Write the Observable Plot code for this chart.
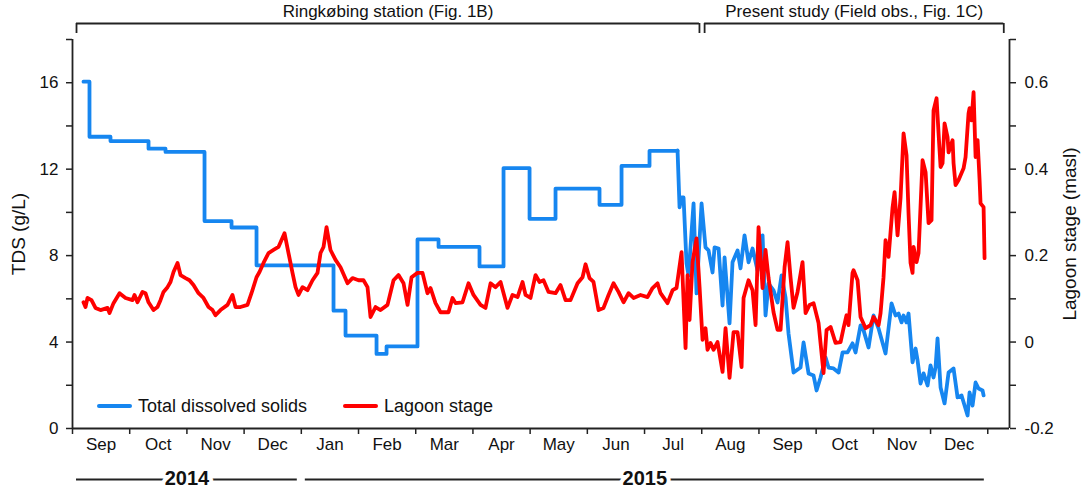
<!DOCTYPE html>
<html><head><meta charset="utf-8">
<script src="https://cdn.jsdelivr.net/npm/d3@7"></script>
<script src="https://cdn.jsdelivr.net/npm/@observablehq/plot@0.6"></script>
<style>
body{margin:0;background:#fff;font-family:"Liberation Sans",Arial,sans-serif}
#wrap{position:relative;width:1084px;height:490px;overflow:hidden}
.leg{position:absolute;top:395px;height:22px;display:flex;align-items:center;font-size:18px;color:#111;white-space:nowrap}
.leg span.sw{display:inline-block;width:35px;height:4px;margin-right:6px;border-radius:2px}
</style></head><body><div id="wrap"></div>
<script>
// time axis: months since 1 Sep 2014
const months = ["Sep","Oct","Nov","Dec","Jan","Feb","Mar","Apr","May","Jun","Jul","Aug","Sep","Oct","Nov","Dec"];
// TDS (g/L), Ringkøbing station stepwise values (start time of each step)
const tdsStepT = [0.192,0.297,0.664,1.329,1.626,2.308,2.780,3.217,4.563,4.773,5.315,5.490,6.031,6.399,7.115,7.535,7.990,8.444,9.213,9.598,10.087,10.577];
const tdsStepV = [16.05,13.5,13.3,12.95,12.8,9.6,9.3,7.55,5.45,4.3,3.45,3.8,8.75,8.4,7.5,12.05,9.7,11.1,10.35,12.15,12.85,12.85];
// TDS (g/L), field observations
const tdsT = [10.577,10.612,10.647,10.682,10.734,10.769,10.857,10.909,10.997,11.066,11.119,11.189,11.224,11.294,11.364,11.399,11.486,11.538,11.626,11.678,11.748,11.818,11.888,11.976,12.063,12.115,12.168,12.255,12.325,12.395,12.465,12.517,12.605,12.727,12.780,12.867,12.955,13.007,13.077,13.164,13.217,13.304,13.392,13.462,13.549,13.636,13.689,13.776,13.829,13.916,14.003,14.091,14.213,14.318,14.388,14.441,14.493,14.528,14.580,14.615,14.685,14.738,14.773,14.825,14.878,14.948,15.000,15.052,15.087,15.122,15.175,15.245,15.315,15.402,15.472,15.542,15.647,15.682,15.734,15.787,15.839,15.909,15.927];
const tdsV = [12.87,10.23,10.69,10.69,7.64,7.08,10.42,6.25,10.42,8.38,8.24,7.22,8.38,8.33,5.69,7.92,4.86,7.69,8.24,7.41,8.94,7.69,8.33,7.31,8.94,5.23,6.71,6.39,5.83,7.08,6.06,4.40,2.59,2.82,3.98,2.55,2.45,1.76,2.36,3.29,2.82,2.78,2.59,3.52,3.52,3.94,3.52,4.77,4.54,3.75,5.23,4.63,3.47,5.79,5.23,5.32,4.91,5.23,4.91,5.32,3.06,3.70,3.15,2.08,2.55,1.99,2.92,2.36,2.82,4.17,1.90,1.16,2.59,2.78,1.44,1.53,0.60,1.67,1.06,2.13,1.85,1.76,1.53];
// Lagoon stage (masl)
const lagT = [0.192,0.227,0.262,0.332,0.402,0.490,0.612,0.647,0.717,0.822,0.927,1.049,1.084,1.136,1.224,1.276,1.329,1.416,1.486,1.538,1.591,1.661,1.713,1.766,1.836,1.888,1.976,2.045,2.115,2.203,2.290,2.378,2.448,2.500,2.587,2.710,2.797,2.850,2.937,3.059,3.129,3.217,3.269,3.339,3.427,3.514,3.601,3.706,3.776,3.846,3.899,3.951,4.021,4.108,4.196,4.283,4.336,4.388,4.441,4.510,4.598,4.685,4.808,4.895,5.000,5.087,5.157,5.210,5.297,5.385,5.507,5.612,5.699,5.787,5.857,5.927,6.031,6.119,6.206,6.259,6.346,6.434,6.573,6.643,6.696,6.818,6.923,7.010,7.133,7.220,7.308,7.395,7.483,7.605,7.692,7.780,7.867,7.920,8.007,8.094,8.164,8.234,8.322,8.444,8.531,8.619,8.706,8.829,8.916,8.969,9.038,9.108,9.196,9.283,9.371,9.458,9.545,9.633,9.720,9.808,9.930,10.052,10.140,10.227,10.280,10.402,10.490,10.559,10.647,10.717,10.752,10.787,10.839,10.909,10.962,11.014,11.066,11.101,11.154,11.206,11.276,11.364,11.416,11.486,11.556,11.626,11.696,11.731,11.818,11.888,11.941,11.993,12.028,12.063,12.115,12.168,12.255,12.325,12.378,12.448,12.500,12.552,12.605,12.675,12.762,12.815,12.885,12.955,13.042,13.129,13.182,13.252,13.339,13.427,13.479,13.531,13.566,13.636,13.654,13.724,13.776,13.864,13.951,14.003,14.091,14.126,14.178,14.213,14.266,14.336,14.371,14.423,14.476,14.528,14.580,14.615,14.650,14.685,14.703,14.755,14.790,14.860,14.913,14.965,15.017,15.052,15.105,15.140,15.175,15.210,15.245,15.297,15.315,15.385,15.402,15.437,15.490,15.577,15.612,15.664,15.682,15.717,15.752,15.787,15.822,15.857,15.874,15.927,15.944];
const lagV = [0.092,0.081,0.102,0.097,0.079,0.074,0.079,0.067,0.090,0.113,0.102,0.097,0.109,0.092,0.116,0.113,0.092,0.074,0.081,0.097,0.116,0.127,0.139,0.162,0.183,0.155,0.148,0.143,0.132,0.113,0.102,0.081,0.074,0.062,0.074,0.086,0.109,0.081,0.081,0.086,0.113,0.150,0.162,0.183,0.206,0.213,0.220,0.252,0.206,0.160,0.127,0.109,0.127,0.120,0.143,0.160,0.206,0.220,0.266,0.213,0.190,0.173,0.136,0.148,0.143,0.143,0.127,0.058,0.081,0.074,0.086,0.143,0.155,0.136,0.086,0.150,0.160,0.160,0.113,0.125,0.090,0.069,0.069,0.102,0.090,0.092,0.136,0.109,0.086,0.079,0.136,0.127,0.139,0.079,0.109,0.104,0.139,0.109,0.102,0.155,0.139,0.143,0.116,0.113,0.132,0.097,0.097,0.136,0.150,0.180,0.148,0.139,0.074,0.079,0.109,0.136,0.116,0.092,0.113,0.102,0.109,0.104,0.125,0.136,0.113,0.090,0.120,0.125,0.208,-0.014,0.155,0.051,0.185,0.240,0.127,0.005,0.032,-0.018,-0.002,-0.018,0.000,-0.069,0.032,-0.083,0.023,0.023,-0.058,0.102,0.143,0.120,0.039,0.266,0.197,0.125,0.213,0.148,0.069,0.028,0.028,0.173,0.231,0.150,0.079,0.116,0.185,0.067,0.086,0.090,0.044,-0.072,0.028,0.035,-0.002,0.000,0.032,0.062,0.039,0.160,0.166,0.143,0.058,0.032,0.039,0.058,0.039,0.067,0.150,0.236,0.197,0.312,0.347,0.247,0.335,0.483,0.432,0.298,0.183,0.160,0.220,0.185,0.206,0.421,0.393,0.275,0.282,0.536,0.564,0.483,0.405,0.414,0.506,0.474,0.439,0.467,0.414,0.363,0.375,0.402,0.428,0.529,0.541,0.513,0.578,0.428,0.467,0.375,0.321,0.312,0.194];
// axes ticks
const tdsTicks = [0,4,8,12,16];
const tdsMinor = [2,6,10,14,18];
const lagTicks = [-0.2,0,0.2,0.4,0.6];
const lagMinor = [-0.1,0.1,0.3,0.5,0.7];
// annotation spans (months since 1 Sep 2014)
const periodLabels = ["Ringkøbing station (Fig. 1B)","Present study (Field obs., Fig. 1C)"];
const periodStart = [0.07,11.05];
const periodEnd = [10.96,16.28];
const yearLabels = ["2014","2015"];
const yearStart = [0.07,4.07];
const yearEnd = [3.93,15.94];
const seriesNames = ["Total dissolved solids","Lagoon stage"];
const seriesColors = ["#1686f0","#ff0000"];

// ---- build tables ----
const toY = L => (L + 0.2) * 20; // lagoon stage -> TDS axis units
const stepData = d3.zip(tdsStepT, tdsStepV).map(([t,v]) => ({t,v}));
const tdsData = d3.zip(tdsT, tdsV).map(([t,v]) => ({t,v}));
const lagData = d3.zip(lagT, lagV).map(([t,v]) => ({t,v}));
const periods = periodLabels.map((label,i) => ({label, start: periodStart[i], end: periodEnd[i]}));
const years = yearLabels.map((label,i) => ({label, start: yearStart[i], end: yearEnd[i]}));
const periodEnds = periods.flatMap(d => [d.start, d.end]);

const mT = 39, mB = 62;
const pu = (490 - mT - mB) / 18; // px per TDS unit
const ax = "#222";
const xMax = 16.38;

const chart = Plot.plot({
  width: 1084, height: 490,
  marginLeft: 72, marginRight: 75, marginTop: mT, marginBottom: mB,
  x: {domain: [0, xMax], axis: null},
  y: {domain: [0, 18], axis: null},
  style: {fontFamily: '"Liberation Sans", Arial, sans-serif', fontSize: "17px", color: "#111", background: "white", overflow: "visible"},
  marks: [
    // axis lines
    Plot.ruleY([0], {stroke: ax, strokeWidth: 1.8}),
    Plot.ruleX([0, xMax], {y1: 0, y2: 18, stroke: ax, strokeWidth: 1.8}),
    // left axis
    Plot.axisY(tdsTicks, {anchor: "left", tickSize: 6, tickPadding: 8, fontSize: 17, label: null, stroke: ax, strokeWidth: 1.5}),
    Plot.axisY(tdsMinor, {anchor: "left", tickSize: 6, tickFormat: () => "", label: null, stroke: ax, strokeWidth: 1.5}),
    // right axis (lagoon stage)
    Plot.axisY(lagTicks.map(toY), {anchor: "right", tickSize: 6, tickPadding: 9, fontSize: 17, label: null, stroke: ax, strokeWidth: 1.5,
      tickFormat: d => String(Math.round((d / 20 - 0.2) * 10) / 10)}),
    Plot.axisY(lagMinor.map(toY), {anchor: "right", tickSize: 6, tickFormat: () => "", label: null, stroke: ax, strokeWidth: 1.5}),
    // x axis
    Plot.axisX(d3.range(0, 17), {anchor: "bottom", tickSize: 6, tickFormat: () => "", label: null, stroke: ax, strokeWidth: 1.5}),
    Plot.axisX(d3.range(0.5, 16, 1), {anchor: "bottom", tickSize: 0, tickPadding: 9, fontSize: 17, label: null,
      tickFormat: d => months[Math.floor(d)]}),
    // axis titles
    Plot.text(["TDS (g/L)"], {frameAnchor: "left", dx: -54, rotate: -90, fontSize: 19, text: d => d, textAnchor: "middle", lineAnchor: "middle", fill: "#111"}),
    Plot.text(["Lagoon stage (masl)"], {frameAnchor: "right", dx: 60, rotate: -90, fontSize: 19, text: d => d, textAnchor: "middle", lineAnchor: "middle", fill: "#111"}),
    // top brackets
    Plot.ruleY(periods, {y: 18, x1: "start", x2: "end", dy: -16, stroke: ax, strokeWidth: 1.8}),
    Plot.ruleX(periodEnds, {x: d => d, y1: 18 + 16 / pu, y2: 18 + 6 / pu, stroke: ax, strokeWidth: 1.8}),
    Plot.text(periods, {x: d => (d.start + d.end) / 2, y: 18, dy: -27.5, text: "label", fontSize: 17, lineAnchor: "middle", fill: "#111"}),
    // years
    Plot.ruleY(years, {y: 0, x1: "start", x2: "end", dy: 51, stroke: ax, strokeWidth: 1.8}),
    Plot.text(years, {x: d => (d.start + d.end) / 2, y: 0, dy: 50, text: "label", fontSize: 20, fontWeight: "bold",
      lineAnchor: "middle", fill: "#111", stroke: "white", strokeWidth: 8}),
    // data
    Plot.line(stepData, {x: "t", y: "v", curve: "step-after", stroke: seriesColors[0], strokeWidth: 3.8}),
    Plot.line(tdsData, {x: "t", y: "v", stroke: seriesColors[0], strokeWidth: 3.8}),
    Plot.line(lagData, {x: "t", y: d => toY(d.v), stroke: seriesColors[1], strokeWidth: 3.8})
  ]
});

const wrap = document.getElementById("wrap");
wrap.appendChild(chart);
// legend (inside plot area, lower left)
const legLeft = [97, 343];
seriesNames.forEach((name, i) => {
  const d = document.createElement("div");
  d.className = "leg";
  d.style.left = legLeft[i] + "px";
  d.innerHTML = `<span class="sw" style="background:${seriesColors[i]}"></span>${name}`;
  wrap.appendChild(d);
});
</script></body></html>
